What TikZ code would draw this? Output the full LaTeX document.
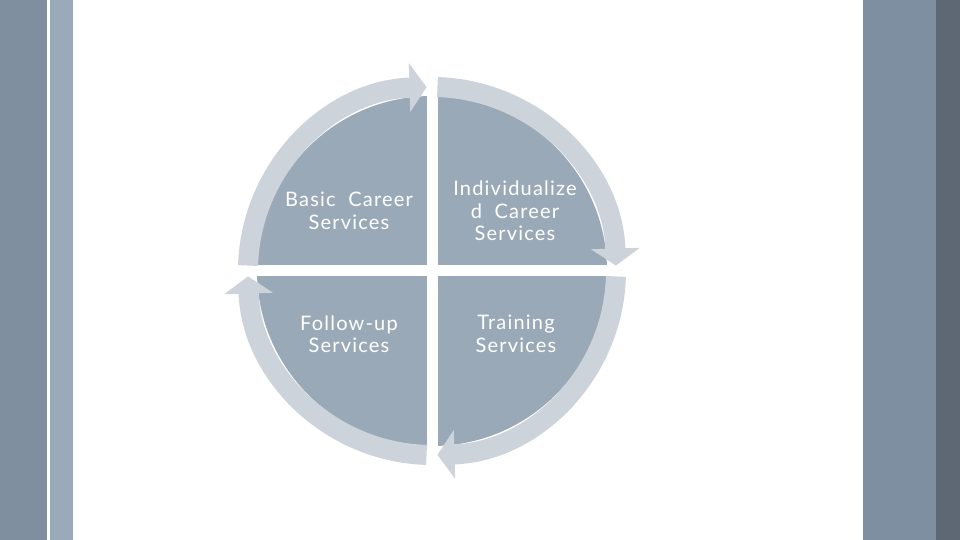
\documentclass[tikz,border=0pt]{standalone}
\usepackage{fontspec}
\setmainfont{Lato}
\newfontfamily\quadfont[LetterSpace=6]{Lato}
\usetikzlibrary{arrows.meta,calc}
\definecolor{bandleft}{HTML}{7F8FA0}
\definecolor{bandlight}{HTML}{9AAAB9}
\definecolor{bandright}{HTML}{7D8FA0}
\definecolor{bandedge}{HTML}{5D6874}
\definecolor{quadfill}{HTML}{9AA9B7}
\definecolor{ringfill}{HTML}{CDD3DA}
\tikzset{
  ring/.style={draw=ringfill,line width=20pt,-{Triangle[width=48pt,length=17pt]}},
  label/.style={text=white,align=center,font=\quadfont\fontsize{20}{22.5}\selectfont}
}

\begin{document}
\begin{tikzpicture}[x=1pt,y=1pt]
  \useasboundingbox (0,0) rectangle (960,540);
  % side bands
  \fill[bandleft] (0,0) rectangle (47,540);
  \fill[bandlight] (50,0) rectangle (73,540);
  \fill[bandright] (863,0) rectangle (936,540);
  \fill[bandedge] (936,0) rectangle (960,540);
  % the four quadrants
  \coordinate (c) at (432,269);
  \fill[quadfill] (c) circle[radius=175];
  \fill[white] ($(c)+(-5.5,-200)$) rectangle ($(c)+(5.5,200)$);
  \fill[white] ($(c)+(-200,-5.5)$) rectangle ($(c)+(200,5.5)$);
  % cycle arrows
  \draw[ring] ($(c)+(178.3:184)$) arc[radius=184,start angle=178.3,end angle=91.7];
  \draw[ring] ($(c)+(88.3:184)$) arc[radius=184,start angle=88.3,end angle=1.7];
  \draw[ring] ($(c)+(-1.7:184)$) arc[radius=184,start angle=-1.7,end angle=-88.3];
  \draw[ring] ($(c)+(-91.7:184)$) arc[radius=184,start angle=-91.7,end angle=-178.3];
  % labels
  \node[label] (basic) at (349,329) {Basic\ \ Career\\Services};
  \node[label] (indiv) at (515,329) {Individualize\\d\ \ Career\\Services};
  \node[label] (follow) at (349,206) {Follow-up\\Services};
  \node[label] (train) at (516,206) {Training\\Services};
\end{tikzpicture}
\end{document}
